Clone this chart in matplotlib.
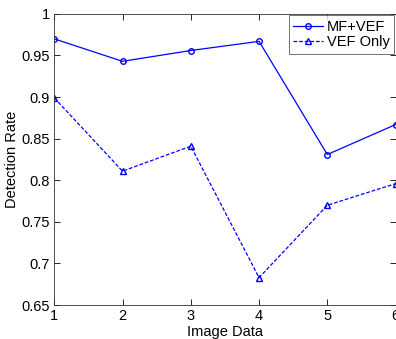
import matplotlib
matplotlib.use("Agg")
import matplotlib.pyplot as plt

plt.rcParams['font.family'] = ['Liberation Sans', 'DejaVu Sans']

x = [1, 2, 3, 4, 5, 6]
mf_vef = [0.970, 0.943, 0.956, 0.967, 0.831, 0.867]
vef_only = [0.899, 0.811, 0.841, 0.683, 0.770, 0.796]
xticks = [1, 2, 3, 4, 5, 6]
yticks = [0.65, 0.7, 0.75, 0.8, 0.85, 0.9, 0.95, 1]
ytick_labels = ['0.65', '0.7', '0.75', '0.8', '0.85', '0.9', '0.95', '1']

fig = plt.figure(figsize=(3.96, 3.39), dpi=100)
ax = fig.add_axes([0.137, 0.100, 0.862, 0.859])
ax.plot(x, mf_vef, '-', color='#0000ff', marker='o', markersize=4,
        markerfacecolor='none', linewidth=0.9, label='MF+VEF')
ax.plot(x, vef_only, '--', color='#0000ff', marker='^', markersize=4,
        markerfacecolor='none', linewidth=0.9, label='VEF Only', dashes=(3, 1.5))
ax.set_xlim(1, 6)
ax.set_ylim(0.65, 1)
ax.set_xticks(xticks)
ax.set_yticks(yticks)
ax.set_yticklabels(ytick_labels)
ax.tick_params(direction='in', labelsize=10.5, length=4, width=0.6, top=True, right=True, pad=3)
for s in ax.spines.values():
    s.set_linewidth(0.6)
    s.set_color('#333333')
ax.set_xlabel('Image Data', fontsize=10.5, labelpad=1)
ax.set_ylabel('Detection Rate', fontsize=10.5, labelpad=2)
leg = ax.legend(loc='upper right', fontsize=10.5, frameon=True, fancybox=False,
                handlelength=2.0, handletextpad=0.3, borderpad=0.3,
                labelspacing=0.1, borderaxespad=0.1)
leg.get_frame().set_edgecolor('#333333')
leg.get_frame().set_linewidth(0.6)
fig.savefig('out.png', dpi=100)
